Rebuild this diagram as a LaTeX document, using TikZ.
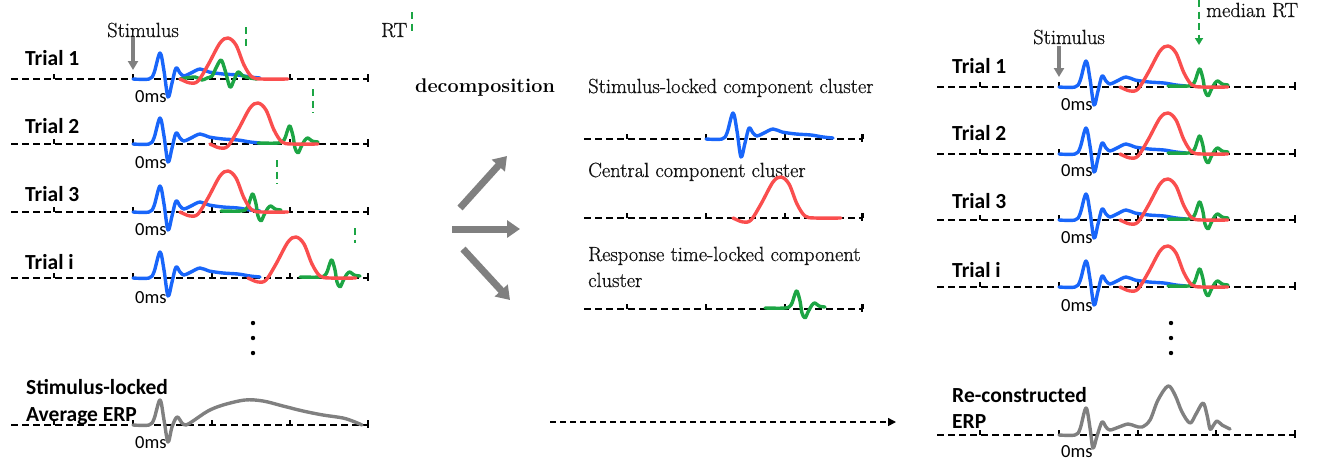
\documentclass[tikz,border=0pt]{standalone}
\usepackage{fontspec}
\newfontfamily\labfont{Carlito}
\newfontfamily\darkserif{Latin Modern Roman}[FakeBold=0.7]
\usetikzlibrary{arrows.meta}

\definecolor{wblue}{RGB}{25,102,250}
\definecolor{wred}{RGB}{250,78,78}
\definecolor{wgreen}{RGB}{28,165,68}
\definecolor{wgray}{RGB}{128,128,128}
\definecolor{txt}{RGB}{20,20,20}

\tikzset{
  wave/.style={line width=3.4pt, line cap=round, line join=round},
  baseaxis/.style={line width=1.7pt, dash pattern=on 6.5pt off 4.5pt, black},
  axtick/.style={line width=1.7pt, black},
  rtmark/.style={line width=2pt, wgreen, dash pattern=on 7pt off 4.5pt},
  serif/.style={font=\darkserif\fontsize{20.5}{24}\selectfont, text=txt, inner sep=0pt, anchor=base west},
  boldserif/.style={font=\bfseries\fontsize{19.8}{24}\selectfont, text=black, inner sep=0pt, anchor=base west},
  lab/.style={font=\labfont\bfseries\fontsize{21.5}{24}\selectfont, text=black, inner sep=0pt, anchor=base west},
  zero/.style={font=\labfont\fontsize{18.5}{20}\selectfont, text=black, inner sep=0pt, anchor=base west},
  blockarrow/.style={line width=7pt, wgray, -{Triangle[length=13pt,width=17pt]}},
  stimarrow/.style={line width=4.5pt, wgray, -{Triangle[length=9pt,width=10pt]}},
  % time axis with ticks, #1 = right end relative to the 0 ms point
  axis/.pic={
    \draw[baseaxis] (-122,0) -- (#1,0);
    \foreach \t in {-79,0,79,157}{\draw[axtick] (\t,0) -- (\t,-5);}
    \draw[axtick] (#1,-5) -- (#1,3);
  },
  % stimulus-locked component (blue)
  bluewave/.pic={
    \draw[wave,wblue] plot[smooth,tension=.55] coordinates {(0,0) (16,0) (21,-6) (27,-26) (31,-8) (35,18) (39,4) (43,-11) (47,-6) (51,-3) (58,-6) (67,-10) (76,-7) (90,-5) (105,-4) (117,-2) (127,-1)};
  },
  % central component (red)
  redwave/.pic={
    \draw[wave,wred] plot[smooth,tension=.55] coordinates {(0,0) (10,4) (18,2) (28,-14) (40,-36) (48,-41) (56,-34) (64,-14) (72,-2) (82,0) (108,0)};
  },
  % response-locked component (green), placed at its main peak
  greenwave/.pic={
    \draw[wave,wgreen] plot[smooth,tension=.55] coordinates {(-32,-1) (-12,-1) (-6,-4) (-2,-15) (0,-18) (3,-8) (5,4) (8,9) (11,3) (15,-4) (18,-6) (22,-3) (28,-2)};
  },
}

\begin{document}
\begin{tikzpicture}[x=1pt,y=-1pt]
\useasboundingbox (0,0) rectangle (1319,459);

% ---------------- single trials, stimulus-locked ----------------
\node[serif] (stimL) at (107,37) {Stimulus};
\node[serif] (rtL) at (381,37) {RT};
\draw[rtmark] (412,12) -- (412,35);
\coordinate (stimLa) at (133,37);
\coordinate (stimLb) at (133,70);
\draw[stimarrow] (stimLa) -- (stimLb);

\node[lab] (t1L) at (25,65) {Trial 1};
\node[lab] (t2L) at (25,133) {Trial 2};
\node[lab] (t3L) at (25,201) {Trial 3};
\node[lab] (tiL) at (25,269) {Trial i};

\pic at (133,79) {axis=235};
\pic at (133,144) {axis=235};
\pic at (133,212) {axis=235};
\pic at (133,278) {axis=235};

\node[zero] (z1L) at (135,102) {0ms};
\node[zero] (z2L) at (135,168) {0ms};
\node[zero] (z3L) at (135,235) {0ms};
\node[zero] (ziL) at (135,303) {0ms};

% trial 1
\pic at (133,79) {bluewave};
\draw[wave,wgreen] plot[smooth,tension=.55] coordinates {(180,79) (195,77) (202,80) (207,78) (212,76) (216,68) (221,60) (225,70) (230,87) (234,80) (238,72) (243,76) (250,78) (257,79)};
\pic at (180,79) {redwave};
\draw[rtmark] (246,27) -- (246,50);
% trial 2
\pic at (133,144) {bluewave};
\pic at (290,144) {greenwave};
\pic at (210,144) {redwave};
\draw[rtmark] (313,89) -- (313,113);
% trial 3
\pic at (133,212) {bluewave};
\pic at (253,212) {greenwave};
\pic at (180,212) {redwave};
\draw[rtmark] (277,160) -- (277,184);
% trial i
\pic at (133,278) {bluewave};
\pic at (332,278) {greenwave};
\pic at (248,278) {redwave};
\draw[rtmark] (355,228) -- (355,243);

\foreach \y in {323,338,353} \fill (253,\y) circle (2.2);

% average ERP
\node[lab] (avg1) at (26,394) {Stimulus-locked};
\node[lab] (avg2) at (26,421) {Average ERP};
\pic at (133,425) {axis=235};
\node[zero] (zaL) at (135,448) {0ms};
\draw[wave,wgray] plot[smooth,tension=.55] coordinates {(133,425) (149,425) (154,419) (160,400) (164,420) (168,442) (172,427) (177,417) (182,423) (186,425) (193,421) (208,411) (223,405) (245,400) (263,401) (283,406) (303,411) (323,415) (343,418) (355,422) (362,425)};

% ---------------- decomposition ----------------
\node[boldserif] (dec) at (415,92) {decomposition};
\coordinate (a1s) at (460,208);
\coordinate (a1e) at (507,156);
\coordinate (a2s) at (452,229);
\coordinate (a2e) at (520,229);
\coordinate (a3s) at (463,249);
\coordinate (a3e) at (510,300);
\draw[blockarrow] (a1s) -- (a1e);
\draw[blockarrow] (a2s) -- (a2e);
\draw[blockarrow] (a3s) -- (a3e);

\node[serif] (c1) at (588,93) {Stimulus-locked component cluster};
\node[serif] (c2) at (588,177) {Central component cluster};
\node[serif] (c3) at (588,261) {Response time-locked component};
\node[serif] (c3b) at (588,287) {cluster};

\pic at (706,139) {axis=156};
\pic at (706,218) {axis=156};
\pic at (706,309) {axis=156};
\pic at (706,139) {bluewave};
\pic at (733,218) {redwave};
\pic at (797,309) {greenwave};

\coordinate (r0) at (550,422);
\coordinate (r1) at (896,422);
\draw[line width=1.5pt, dash pattern=on 6pt off 4pt, -{Triangle[length=8pt,width=8pt]}] (r0) -- (r1);

% ---------------- reconstructed trials ----------------
\node[serif] (medrt) at (1206,17) {median RT};
\coordinate (m0) at (1199,0);
\coordinate (m1) at (1199,45);
\draw[rtmark, -{Triangle[length=7pt,width=8pt]}] (m0) -- (m1);
\node[serif] (stimR) at (1033,44) {Stimulus};
\coordinate (stimRa) at (1059,46);
\coordinate (stimRb) at (1059,77);
\draw[stimarrow] (stimRa) -- (stimRb);

\node[lab] (t1R) at (952,73) {Trial 1};
\node[lab] (t2R) at (952,140) {Trial 2};
\node[lab] (t3R) at (952,208) {Trial 3};
\node[lab] (tiR) at (952,277) {Trial i};

\foreach \y in {87,154,220,287}{
  \pic at (1059,\y) {axis=236};
  \pic at (1059,\y) {bluewave};
  \pic at (1200,\y) {greenwave};
  \pic at (1120,\y) {redwave};
}
\node[zero] (z1R) at (1061,110) {0ms};
\node[zero] (z2R) at (1061,176) {0ms};
\node[zero] (z3R) at (1061,243) {0ms};
\node[zero] (ziR) at (1061,311) {0ms};

\foreach \y in {323,338,353} \fill (1171,\y) circle (2.2);

\node[lab] (rec1) at (952,402) {Re-constructed};
\node[lab] (rec2) at (952,428) {ERP};
\pic at (1059,435) {axis=236};
\node[zero] (zaR) at (1061,457) {0ms};
\draw[wave,wgray] plot[smooth,tension=.55] coordinates {(1059,435) (1075,435) (1080,429) (1086,408) (1090,428) (1093,448) (1097,436) (1102,422) (1106,427) (1110,430) (1119,427) (1128,424) (1135,426) (1142,427) (1150,420) (1158,400) (1168,386) (1175,395) (1182,412) (1190,423) (1196,414) (1203,403) (1207,415) (1210,429) (1213,426) (1217,421) (1222,425) (1230,429)};
\end{tikzpicture}
\end{document}
